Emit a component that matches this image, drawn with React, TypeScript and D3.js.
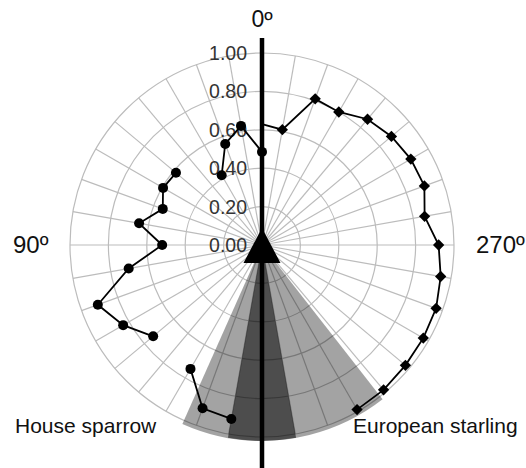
import React from "react";
import * as d3 from "d3";

// angles in degrees, counter-clockwise from the top (0º up, 90º left, 270º right)
const sparrowAngles = [0, 10, 20, 30, 40, 50, 60, 70, 80, 90, 100, 110, 120, 130, 140, 150, 160, 170];
const sparrowValues = [0.485, 0.63, 0.56, 0.42, null, 0.585, 0.595, 0.55, 0.65, 0.52, 0.705, 0.91, 0.835, 0.74, null, 0.745, 0.905, 0.92];

const starlingAngles = [360, 350, 340, 330, 320, 310, 300, 290, 280, 270, 260, 250, 240, 230, 220, 210];
const starlingValues = [0.63, 0.61, 0.81, 0.8, 0.855, 0.88, 0.895, 0.9, 0.86, 0.92, 0.945, 0.965, 0.97, 0.975, 0.985, 0.99];

// blind areas (start, end angle)
const sparrowBlind = [156, 190];
const starlingBlind = [170, 218];

const ringTicks = [0, 0.2, 0.4, 0.6, 0.8, 1.0];
const spokeAngles = d3.range(0, 360, 10);

const W = 526;
const H = 468;
const cx = 262;
const cy = 245;

type Pt = { angle: number; value: number | null };

const toRad = (deg: number) => ((360 - deg) * Math.PI) / 180; // d3 goes clockwise

const App: React.FC = () => {
  const r = d3.scaleLinear().domain([0, 1]).range([0, 192]);

  const sparrow: Pt[] = sparrowAngles.map((a, i) => ({ angle: a, value: sparrowValues[i] }));
  const starling: Pt[] = starlingAngles.map((a, i) => ({ angle: a, value: starlingValues[i] }));

  const line = d3
    .lineRadial<Pt>()
    .defined((d) => d.value != null)
    .angle((d) => toRad(d.angle))
    .radius((d) => r(d.value as number));

  const pos = (d: Pt) => {
    const t = (d.angle * Math.PI) / 180;
    const rr = r(d.value as number);
    return [-rr * Math.sin(t), -rr * Math.cos(t)];
  };

  const sector = (a0: number, a1: number) =>
    d3.arc()({
      innerRadius: 0,
      outerRadius: r(1.02),
      startAngle: toRad(a1),
      endAngle: toRad(a0),
    }) as string;

  const overlap = [
    Math.max(sparrowBlind[0], starlingBlind[0]),
    Math.min(sparrowBlind[1], starlingBlind[1]),
  ];

  const font = "'Liberation Sans', Arial, sans-serif";

  return (
    <svg width={W} height={H} style={{ position: "absolute", left: 0, top: 0 }} fontFamily={font}>
      <rect width={W} height={H} fill="#fff" />
      <g transform={`translate(${cx},${cy})`}>
        {/* grid */}
        {ringTicks
          .filter((t) => t > 0)
          .map((t) => (
            <circle key={t} r={r(t)} fill="none" stroke="#bcbcbc" strokeWidth={1.2} />
          ))}
        {spokeAngles.map((a) => {
          const t = (a * Math.PI) / 180;
          return (
            <line
              key={a}
              x1={0}
              y1={0}
              x2={-r(1) * Math.sin(t)}
              y2={-r(1) * Math.cos(t)}
              stroke="#bcbcbc"
              strokeWidth={1.2}
            />
          );
        })}

        {/* blind areas */}
        <path d={sector(sparrowBlind[0], sparrowBlind[1])} fill="#000" fillOpacity={0.36} />
        <path d={sector(starlingBlind[0], starlingBlind[1])} fill="#000" fillOpacity={0.36} />
        <path d={sector(overlap[0], overlap[1])} fill="#000" fillOpacity={0.26} />

        {/* ring labels */}
        {ringTicks.map((t) => (
          <text
            key={t}
            x={-15}
            y={-r(t)}
            dy="0.36em"
            textAnchor="end"
            fontSize={19.5}
            fill="#333"
          >
            {t.toFixed(2)}
          </text>
        ))}

        {/* series */}
        <path d={line(sparrow) as string} fill="none" stroke="#000" strokeWidth={1.8} />
        <path d={line(starling) as string} fill="none" stroke="#000" strokeWidth={1.8} />
        {sparrow
          .filter((d) => d.value != null)
          .map((d) => {
            const [x, y] = pos(d);
            return <circle key={d.angle} cx={x} cy={y} r={5} fill="#000" />;
          })}
        {starling
          .filter((d) => d.value != null && d.angle !== 360) // first point sits under the axis, no marker
          .map((d) => {
            const [x, y] = pos(d);
            return (
              <rect
                key={d.angle}
                x={-4}
                y={-4}
                width={8}
                height={8}
                fill="#000"
                transform={`translate(${x},${y}) rotate(45)`}
              />
            );
          })}

        {/* heading axis and observer */}
        <line x1={0} y1={38 - cy} x2={0} y2={H - cy} stroke="#000" strokeWidth={4.5} />
        <path d="M0,-17 L18.5,18 L-18.5,18 Z" fill="#000" />
      </g>

      <text x={cx} y={27} textAnchor="middle" fontSize={23} fill="#111">0º</text>
      <text x={13} y={253} fontSize={24} fill="#111">90º</text>
      <text x={476} y={253} fontSize={24} fill="#111">270º</text>
      <text x={15} y={433} fontSize={21} fill="#111">House sparrow</text>
      <text x={353} y={433} fontSize={21} fill="#111">European starling</text>
    </svg>
  );
};

export default App;
